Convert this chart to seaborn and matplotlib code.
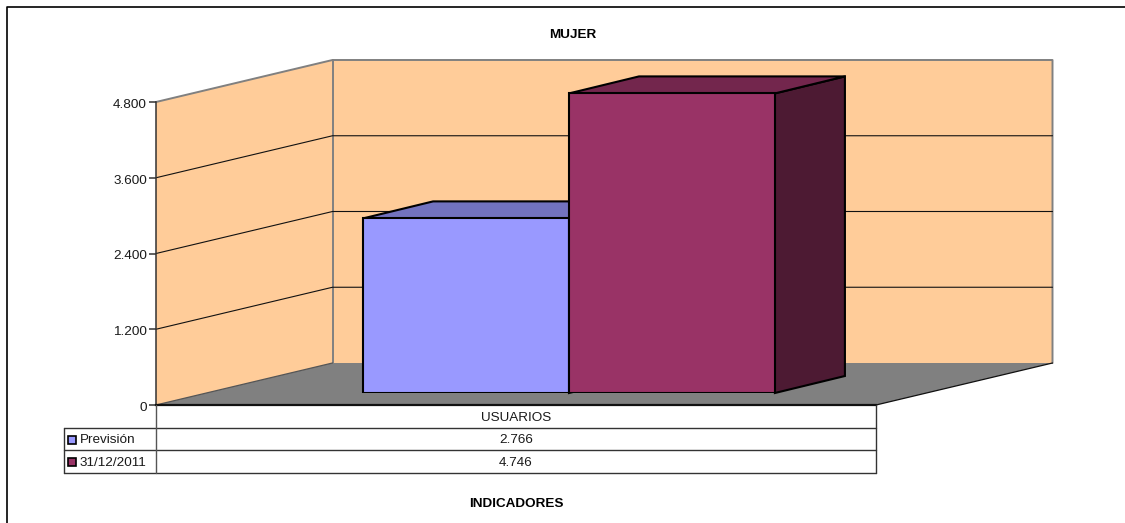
import matplotlib
matplotlib.use("Agg")
import matplotlib.pyplot as plt
from matplotlib.patches import Polygon, Rectangle
from matplotlib.transforms import ScaledTranslation
import pandas as pd
import seaborn as sns

# ---- data ----
categories = ["USUARIOS"]
series_names = ["Previsión", "31/12/2011"]
series_values = [2766, 4746]
tick_values = [0, 1200, 2400, 3600, 4800]
tick_labels = ["0", "1.200", "2.400", "3.600", "4.800"]
value_labels = ["2.766", "4.746"]
title_text = "MUJER"
xlabel_text = "INDICADORES"

# ---- style ----
sns.set_theme(style="white")
plt.rcParams["font.family"] = ["Liberation Sans", "DejaVu Sans"]
FS = 9.7
W, H = 1125, 523
WALL, FLOOR, GREY, DARK = "#FFCC99", "#808080", "#808080", "#333333"
FRONT = ["#9999FF", "#993366"]
TOP = ["#7272BF", "#73264D"]
SIDE = ["#4D4D80", "#4D1A33"]
TXT = "#1a1a1a"

# front plane of the box, back-wall offset and bar plane, in pixels
L, R, Y0, Y1 = 156, 876, 405, 102
DX, DY = 176.5, -42
BX, BY = 53, -12          # where bars stand on the floor
BDX, BDY = 70, -17        # bar depth

fig = plt.figure(figsize=(W / 100, H / 100), dpi=100, facecolor="white")

def axes_px(x0, x1, ybottom, ytop, z):
    return fig.add_axes([x0 / W, 1 - ybottom / H, (x1 - x0) / W, (ybottom - ytop) / H], zorder=z)

# Pixel canvas for the box and table
bg = fig.add_axes([0, 0, 1, 1], zorder=0)
bg.set_xlim(0, W)
bg.set_ylim(H, 0)
bg.axis("off")

# Value scale on the front plane
ax = axes_px(L, R, Y0, Y1, 1)
ax.patch.set_alpha(0)
ax.set_xlim(0, 1)
ax.set_ylim(tick_values[0], tick_values[-1])
ax.set_xticks([])
ax.set_yticks(tick_values, tick_labels, fontsize=FS, color=TXT)
ax.tick_params(axis="y", left=True, length=5, width=1.1, color=DARK, pad=1.5)
shift_down = ScaledTranslation(0, -1.0 / 72, fig.dpi_scale_trans)
for lab in ax.get_yticklabels():
    lab.set_transform(lab.get_transform() + shift_down)
for s in ["top", "right"]:
    ax.spines[s].set_visible(False)
ax.spines["left"].set_color(DARK)
ax.spines["left"].set_linewidth(1.1)
ax.spines["bottom"].set_color("#111111")
ax.spines["bottom"].set_linewidth(1.6)

def val_px(v):
    return Y0 + (Y1 - Y0) * (v - tick_values[0]) / (tick_values[-1] - tick_values[0])

# Walls and floor
bg.add_patch(Polygon([(L, Y1), (L + DX, Y1 + DY), (L + DX, Y0 + DY), (L, Y0)], fc=WALL, ec="none", zorder=1))
bg.add_patch(Rectangle((L + DX, Y1 + DY), R - L, Y0 - Y1, fc=WALL, ec="none", zorder=1))
bg.add_patch(Polygon([(L, Y0), (R, Y0), (R + DX, Y0 + DY), (L + DX, Y0 + DY)], fc=FLOOR, ec="none", zorder=2))
# wall outlines
bg.plot([L, L + DX, R + DX, R + DX], [Y1, Y1 + DY, Y1 + DY, Y0 + DY], color=GREY, lw=1.4, zorder=3)
bg.plot([L + DX, L + DX], [Y1 + DY, Y0 + DY], color=GREY, lw=1.4, zorder=3)
bg.plot([R, R + DX], [Y0, Y0 + DY], color="#111111", lw=0.9, zorder=3)
bg.plot([L, L + DX], [Y0, Y0 + DY], color="#555555", lw=0.9, zorder=3)
# gridlines
for v in tick_values[1:-1]:
    y = val_px(v)
    bg.plot([L, L + DX, R + DX], [y, y + DY, y + DY], color="#111111", lw=0.8, zorder=3)

# Bars: front faces via seaborn on an axes shifted to the bar plane
bar_ax = axes_px(L + BX, R + BX, Y0 + BY, Y1 + BY, 2)
df = pd.DataFrame({
    "categoria": categories * len(series_names),
    "serie": series_names,
    "valor": series_values,
})
sns.barplot(data=df, x="categoria", y="valor", hue="serie", hue_order=series_names,
            palette=FRONT, width=0.572, gap=0, dodge=True, ax=bar_ax,
            legend=False, edgecolor="black", linewidth=1.5, saturation=1)
bar_ax.set_xlim(-0.5, 0.5)
bar_ax.set_ylim(tick_values[0], tick_values[-1])
bar_ax.axis("off")
bar_ax.patch.set_alpha(0)

# Depth faces derived from the seaborn bars
fig.canvas.draw()
to_px = lambda xy: (bar_ax.transData.transform(xy)[0], H - bar_ax.transData.transform(xy)[1])
bars = [p for p in bar_ax.patches if p.get_height() > 0]
bars.sort(key=lambda p: p.get_x())
for i, p in enumerate(bars):
    x0, yt = to_px((p.get_x(), p.get_height()))
    x1, yb = to_px((p.get_x() + p.get_width(), 0))
    z = 4 + i
    bg.add_patch(Polygon([(x1, yt), (x1 + BDX, yt + BDY), (x1 + BDX, yb + BDY), (x1, yb)],
                         fc=SIDE[i], ec="black", lw=1.5, zorder=z, joinstyle="miter"))
    bg.add_patch(Polygon([(x0, yt), (x0 + BDX, yt + BDY), (x1 + BDX, yt + BDY), (x1, yt)],
                         fc=TOP[i], ec="black", lw=1.5, zorder=z, joinstyle="miter"))

# Data table
T_L, ROWS = 63.5, [405, 428, 450, 472.5]
tc = "#333333"
bg2 = fig.add_axes([0, 0, 1, 1], zorder=3)
bg2.set_xlim(0, W)
bg2.set_ylim(H, 0)
bg2.axis("off")
bg2.patch.set_alpha(0)
for y in ROWS[1:]:
    bg2.plot([T_L, R], [y, y], color=tc, lw=1.0)
bg2.plot([T_L, T_L], [ROWS[1], ROWS[3]], color=tc, lw=1.0)
bg2.plot([L, L], ROWS[0:1] + ROWS[3:], color="#555555", lw=1.0)
bg2.plot([R, R], ROWS[0:1] + ROWS[3:], color=tc, lw=1.0)
cx = (L + R) / 2
bg2.text(cx, (ROWS[0] + ROWS[1]) / 2 + 1.2, categories[0], ha="center", va="center", fontsize=FS, color=TXT)
for i, name in enumerate(series_names):
    ym = (ROWS[i + 1] + ROWS[i + 2]) / 2
    bg2.add_patch(Rectangle((67.5, ym - 2.8), 8, 8, fc=FRONT[i], ec="black", lw=1.2))
    bg2.text(80, ym + 1.4, name, ha="left", va="center", fontsize=FS, color=TXT)
    bg2.text(cx, ym + 1.4, value_labels[i], ha="center", va="center", fontsize=FS, color=TXT)

# Titles
bg2.text(572.5, 35, title_text, ha="center", va="center", fontsize=FS, fontweight="bold", color="black")
bg2.text(516, 504, xlabel_text, ha="center", va="center", fontsize=FS, fontweight="bold", color="black")

# Chart-area frame: only top and left are inside the image
bg2.plot([7, 7, W], [H, 7, 7], color="black", lw=1.2)

fig.savefig("out.png", dpi=100, facecolor="white")
